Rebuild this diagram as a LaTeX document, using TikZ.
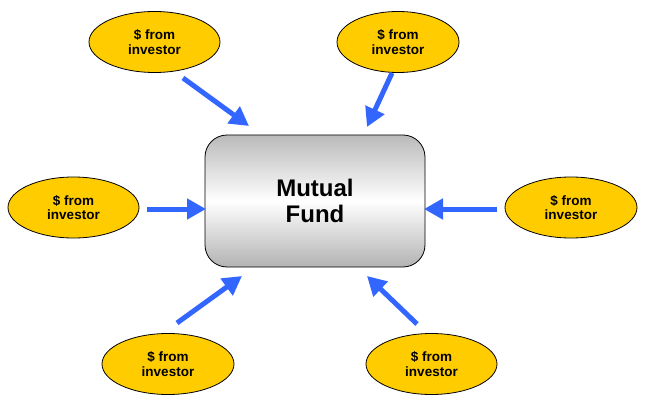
\documentclass[tikz,border=0pt]{standalone}
\usepackage{fontspec}
\setmainfont{Liberation Sans}
\usetikzlibrary{arrows.meta,shapes.geometric}
\definecolor{arrowblue}{RGB}{51,102,255}
\definecolor{goldfill}{RGB}{255,204,0}
\begin{document}
\begin{tikzpicture}[x=1pt,y=-1pt,
  investor/.style={ellipse, draw=black, line width=0.8pt, fill=goldfill,
    minimum width=#1, minimum height=61pt, inner sep=0pt, align=center,
    font=\fontsize{13.5}{14.5}\selectfont\bfseries},
  investor/.default=131pt,
  fund/.style={draw=black, line width=0.8pt, rounded corners=22pt,
    minimum width=220pt, minimum height=132pt, align=center,
    top color=black!27, bottom color=black!30, middle color=white,
    font=\fontsize{24}{26.5}\selectfont\bfseries},
  flow/.style={draw=arrowblue, line width=5pt,
    -{Triangle[length=19pt,width=20pt]}}]
\useasboundingbox (0,0) rectangle (649,404);
\node[fund] (mf) at (315,201) {Mutual\\Fund};
\node[investor] (e1) at (154.5,42) {\$ from\\investor};
\node[investor=122pt] (e2) at (398,42) {\$ from\\investor};
\node[investor] (e3) at (73.5,207.5) {\$ from\\investor};
\node[investor=132pt] (e4) at (571,207.5) {\$ from\\investor};
\node[investor=132pt] (e5) at (168,364) {\$ from\\investor};
\node[investor] (e6) at (431.5,364) {\$ from\\investor};
\coordinate (s1) at (183,78);  \coordinate (t1) at (249,126);
\coordinate (s2) at (392,73);  \coordinate (t2) at (367,127);
\coordinate (s3) at (147,209); \coordinate (t3) at (206,209);
\coordinate (s4) at (497,209); \coordinate (t4) at (424,209);
\coordinate (s5) at (177,323); \coordinate (t5) at (242,276);
\coordinate (s6) at (417,324); \coordinate (t6) at (367,276);
\draw[flow] (s1) -- (t1);
\draw[flow] (s2) -- (t2);
\draw[flow] (s3) -- (t3);
\draw[flow] (s4) -- (t4);
\draw[flow] (s5) -- (t5);
\draw[flow] (s6) -- (t6);
\end{tikzpicture}
\end{document}
